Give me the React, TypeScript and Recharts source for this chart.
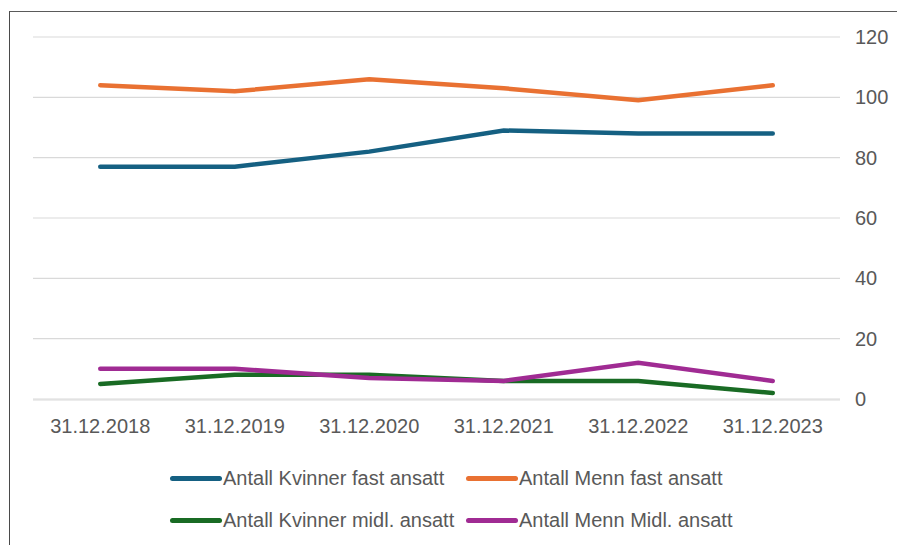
import React from 'react';
import { LineChart, Line, XAxis, YAxis, CartesianGrid, Legend } from 'recharts';

const dates = ['31.12.2018', '31.12.2019', '31.12.2020', '31.12.2021', '31.12.2022', '31.12.2023'];
const seriesNames = [
  'Antall Kvinner fast ansatt',
  'Antall Menn fast ansatt',
  'Antall Kvinner midl. ansatt',
  'Antall Menn Midl. ansatt',
];
const kvinnerFast = [77, 77, 82, 89, 88, 88];
const mennFast = [104, 102, 106, 103, 99, 104];
const kvinnerMidl = [5, 8, 8, 6, 6, 2];
const mennMidl = [10, 10, 7, 6, 12, 6];
const yTicks = [0, 20, 40, 60, 80, 100, 120];
const edgeTicks = [0, 1, 2, 3, 4, 5, 6];

const data = dates.map((d, i) => ({
  date: d,
  kf: kvinnerFast[i],
  mf: mennFast[i],
  km: kvinnerMidl[i],
  mm: mennMidl[i],
}));

const textColor = '#595959';
const gridColor = '#d9d9d9';
const font = '"Liberation Sans", Arial, sans-serif';

const LegendBox = (props: any) => {
  const items = [...(props.payload || [])].sort(
    (a: any, b: any) => seriesNames.indexOf(a.value) - seriesNames.indexOf(b.value)
  );
  return (
    <div
      style={{
        display: 'grid',
        gridTemplateColumns: '296px 300px',
        gridAutoRows: '42px',
        fontFamily: font,
        fontSize: 20,
        color: textColor,
      }}
    >
      {items.map((it: any) => (
        <div key={it.value} style={{ display: 'flex', alignItems: 'center', whiteSpace: 'nowrap' }}>
          <span
            style={{
              display: 'inline-block',
              width: 52,
              height: 5,
              borderRadius: 3,
              background: it.color,
              marginRight: 1,
            }}
          />
          <span>{it.value}</span>
        </div>
      ))}
    </div>
  );
};

export default function App() {
  return (
    <div
      style={{
        position: 'absolute',
        left: 9,
        top: 11,
        width: 888,
        height: 534,
        borderLeft: '1px solid #4a4a4a',
        borderTop: '1px solid #5a5a5a',
        background: '#fff',
      }}
    >
      <LineChart
        width={887}
        height={533}
        data={data}
        margin={{ top: 25, right: 0, left: 23, bottom: 105 }}
        style={{ fontFamily: font }}
      >
        <CartesianGrid horizontal vertical={false} stroke={gridColor} strokeWidth={1.2} />
        <XAxis
          dataKey="date"
          scale="band"
          axisLine={false}
          tickLine={false}
          tickMargin={14}
          height={1}
          interval={0}
          tick={{ fill: textColor, fontSize: 20 }}
        />
        <XAxis
          xAxisId="edge"
          type="number"
          domain={[0, 6]}
          ticks={edgeTicks}
          tick={false}
          height={40}
          stroke={gridColor}
          tickLine={{ stroke: gridColor }}
          tickSize={7}
        />
        <YAxis
          orientation="right"
          domain={[0, 120]}
          ticks={yTicks}
          axisLine={false}
          tickLine={false}
          width={57}
          tickMargin={9}
          tick={{ fill: textColor, fontSize: 20, textAnchor: 'start' }}
        />
        <Legend
          verticalAlign="middle"
          layout="horizontal"
          content={<LegendBox />}
          wrapperStyle={{ left: 160, top: 445, width: 620 }}
        />
        <Line name={seriesNames[0]} dataKey="kf" stroke="#156082" strokeWidth={4.5} dot={false} isAnimationActive={false} strokeLinecap="round" />
        <Line name={seriesNames[1]} dataKey="mf" stroke="#E97132" strokeWidth={4.5} dot={false} isAnimationActive={false} strokeLinecap="round" />
        <Line name={seriesNames[2]} dataKey="km" stroke="#196B24" strokeWidth={4.5} dot={false} isAnimationActive={false} strokeLinecap="round" />
        <Line name={seriesNames[3]} dataKey="mm" stroke="#A02B93" strokeWidth={4.5} dot={false} isAnimationActive={false} strokeLinecap="round" />
      </LineChart>
    </div>
  );
}
